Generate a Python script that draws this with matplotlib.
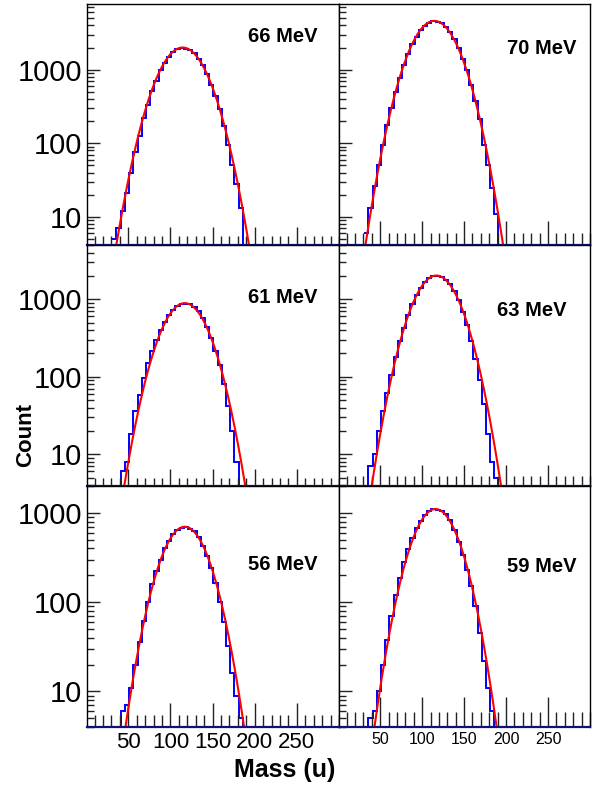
import matplotlib
matplotlib.use("Agg")
import matplotlib.pyplot as plt
import numpy as np
from matplotlib.ticker import FixedLocator, LogLocator, MultipleLocator, NullFormatter

plt.rcParams['font.family'] = ['Liberation Sans', 'DejaVu Sans']

# 5 u wide mass bins, the first listed bin starts at 31 u
bin_start = 31
bin_width = 5

energies = ['66 MeV', '70 MeV', '61 MeV', '63 MeV', '56 MeV', '59 MeV']

counts_66 = [5, 7, 12, 21, 40, 76, 125, 220, 330, 520, 700, 980, 1230, 1500, 1720,
             1880, 1990, 1920, 1850, 1700, 1400, 1150, 880, 620, 440, 290, 170, 95,
             50, 28, 13, 0, 0]
counts_70 = [6, 13, 26, 50, 95, 175, 300, 490, 770, 1150, 1630, 2200, 2800, 3450, 3950,
             4350, 4550, 4450, 4250, 3800, 3250, 2620, 1950, 1400, 980, 620, 380, 215,
             95, 50, 25, 11, 0]
counts_61 = [0, 0, 6, 8, 18, 36, 58, 95, 150, 215, 300, 400, 510, 620, 730,
             810, 865, 880, 860, 800, 700, 580, 440, 320, 215, 140, 80, 42,
             20, 8, 0, 0, 0]
counts_63 = [0, 7, 10, 20, 36, 62, 105, 178, 285, 430, 625, 870, 1120, 1400, 1650,
             1850, 1980, 2000, 1930, 1790, 1560, 1270, 970, 690, 470, 290, 170, 90,
             45, 18, 8, 5, 0]
counts_56 = [0, 0, 6, 7, 11, 20, 36, 62, 100, 160, 225, 300, 400, 490, 580,
             645, 680, 690, 665, 620, 540, 430, 330, 240, 165, 100, 60, 32,
             16, 9, 5, 0, 0]
counts_59 = [0, 5, 6, 10, 20, 38, 70, 120, 185, 280, 390, 520, 670, 820, 950,
             1050, 1100, 1090, 1050, 960, 830, 650, 470, 340, 230, 150, 90, 45,
             22, 11, 6, 0, 0]
all_counts = [counts_66, counts_70, counts_61, counts_63, counts_56, counts_59]

# gaussian fit parameters for each spectrum
fit_amp = [2000, 4600, 890, 2020, 700, 1105]
fit_mean = [114.5, 114.5, 117.0, 117.0, 117.0, 116.0]
fit_sigma = [22.4, 21.9, 21.8, 21.8, 21.9, 21.7]

mass_ticks = [50, 100, 150, 200, 250]
count_ticks = [10, 100, 1000]
count_labels = ['10', '100', '1000']
row_ylim = [(4.15, 7800), (3.9, 5000), (4.0, 2000)]

W, H = 600, 788
col_px = [(87, 252), (339, 251)]
row_px = [(4, 241), (245, 241), (486, 241)]
# long x tick length per pad (pixels)
xtick_len = [[18, 24], [17, 21], [24, 30]]
label_pos = [(248, 37), (507, 49), (248, 297), (497, 310), (248, 565), (507, 566)]

fig = plt.figure(figsize=(6, 7.88), dpi=100)

for i, counts in enumerate(all_counts):
    r, c = divmod(i, 2)
    x0, w = col_px[c]
    y0, h = row_px[r]
    ax = fig.add_axes([x0 / W, 1 - (y0 + h) / H, w / W, h / H])

    edges = bin_start + bin_width * np.arange(len(counts) + 1)
    ax.stairs(counts, edges, color='#0000ff', lw=1.4, baseline=None)

    xs = np.linspace(1, 300, 900)
    ax.plot(xs, fit_amp[i] * np.exp(-0.5 * ((xs - fit_mean[i]) / fit_sigma[i]) ** 2),
            color='#ff0000', lw=1.5)

    ax.set_yscale('log')
    ax.set_xlim(1, 300)
    ax.set_ylim(*row_ylim[r])

    ax.xaxis.set_major_locator(FixedLocator(mass_ticks))
    ax.xaxis.set_minor_locator(MultipleLocator(10))
    ax.yaxis.set_major_locator(FixedLocator(count_ticks))
    ax.yaxis.set_minor_locator(LogLocator(subs=np.arange(2, 10)))
    ax.yaxis.set_minor_formatter(NullFormatter())

    xl = xtick_len[r][c] * 0.72
    ax.tick_params(axis='x', which='major', direction='in', length=xl, width=1,
                   color='#222222', pad=3.5, labelsize=16 if c == 0 else 11.5,
                   top=False, labelbottom=(r == 2))
    ax.tick_params(axis='x', which='minor', direction='in', length=xl / 2, width=1,
                   color='#222222', top=False)
    ax.tick_params(axis='y', which='major', direction='in', length=9.5, width=1,
                   color='#222222', pad=3.5, labelsize=21, right=False,
                   labelleft=(c == 0))
    ax.tick_params(axis='y', which='minor', direction='in', length=4.7, width=1,
                   color='#222222', right=False)
    if c == 0:
        ax.set_yticklabels(count_labels)

    for side in ['left', 'right', 'top']:
        ax.spines[side].set_color('black')
        ax.spines[side].set_linewidth(1.0)
    ax.spines['bottom'].set_color('#10107a')
    ax.spines['bottom'].set_linewidth(1.6)

    lx, ly = label_pos[i]
    fig.text(lx / W, 1 - ly / H, energies[i], fontsize=14.5, fontweight='bold',
             ha='left', va='center')

fig.text(285 / W, 1 - 770 / H, 'Mass (u)', fontsize=18, fontweight='bold',
         ha='center', va='center')
fig.text(26 / W, 1 - 435 / H, 'Count', rotation=90, fontsize=16, fontweight='bold',
         ha='center', va='center')

fig.savefig('out.png', dpi=100, facecolor='white')
